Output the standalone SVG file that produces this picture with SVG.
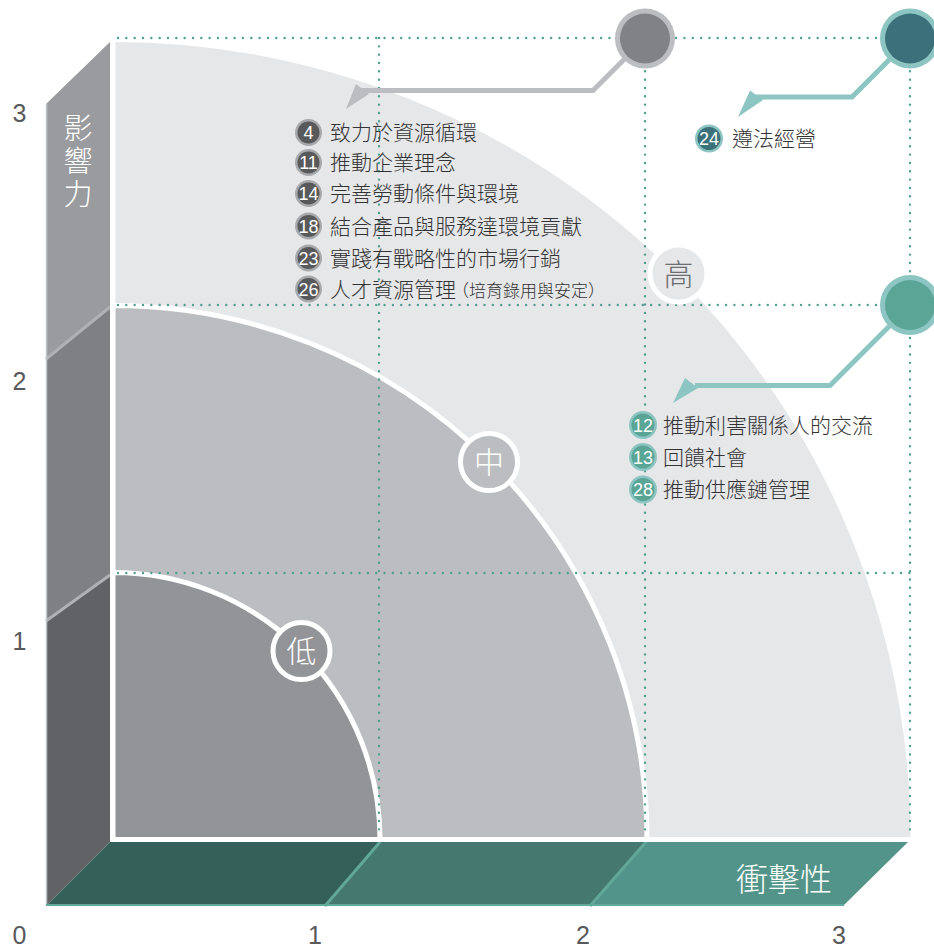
<svg xmlns="http://www.w3.org/2000/svg" width="934" height="950" viewBox="0 0 934 950">
<style>
.cjk{font-family:"Noto Sans CJK TC","Noto Sans CJK SC",sans-serif;font-weight:300;}
.item{font-size:21px;fill:#333335;}
.num{font-family:"Liberation Sans Narrow","Liberation Sans",sans-serif;font-size:18px;fill:#fff;text-anchor:middle;}
.axis{font-family:"Liberation Sans",sans-serif;font-size:25px;fill:#58595b;text-anchor:middle;}
.dot{stroke:#4e9f90;stroke-width:2.4;stroke-linecap:round;stroke-dasharray:0 8.33;fill:none;}
.big{font-size:30px;text-anchor:middle;}
.seamW{stroke:#b0b1b4;stroke-width:3;}
.seamF{stroke:#62a899;stroke-width:3;}
</style>
<rect width="934" height="950" fill="#fff"/>

<g id="wall">
<polygon points="46,104 110,42 110,307 46,359" fill="#9a9b9f"/>
<polygon points="46,359 110,307 110,575 46,621" fill="#7f8084"/>
<polygon points="46,621 110,575 110,842 46,906" fill="#616266"/>
<line class="seamW" x1="46" y1="359" x2="110" y2="307"/>
<line class="seamW" x1="46" y1="621" x2="110" y2="575"/>
<line x1="46.5" y1="104" x2="46.5" y2="906" stroke="#c4c5c7" stroke-width="1.5"/>
<text class="cjk" x="78" y="113" font-size="29" fill="#fff" writing-mode="vertical-rl" letter-spacing="4">影響力</text>
</g>

<g id="floor">
<polygon points="110,842 380,842 325,906 46,906" fill="#35605a"/>
<polygon points="380,842 646,842 590,906 325,906" fill="#457970"/>
<polygon points="646,842 908,842 843,906 590,906" fill="#53948a"/>
<line class="seamF" x1="380" y1="842" x2="325" y2="906"/>
<line class="seamF" x1="646" y1="842" x2="590" y2="906"/>
<line x1="46" y1="905" x2="844" y2="905" stroke="#5fa99a" stroke-width="2"/>
<text class="cjk" x="784" y="891" font-size="32" fill="#fff" text-anchor="middle">衝擊性</text>
</g>

<g id="regions">
<path d="M113,839.5 V39.5 A800,800 0 0 1 913,839.5 Z" fill="#e6e7e8" stroke="#fff" stroke-width="5"/>
<path d="M113,839.5 V305.5 A534,534 0 0 1 647,839.5 Z" fill="#bcbdc0" stroke="#fff" stroke-width="5"/>
<path d="M113,839.5 V572.5 A267,267 0 0 1 380,839.5 Z" fill="#939498" stroke="#fff" stroke-width="5"/>
</g>

<g id="grid">
<line class="dot" x1="118" y1="38" x2="910" y2="38"/>
<line class="dot" x1="118" y1="305" x2="910" y2="305"/>
<line class="dot" x1="118" y1="573" x2="910" y2="573"/>
<line class="dot" x1="379" y1="38" x2="379" y2="836"/>
<line class="dot" x1="645" y1="38" x2="645" y2="836"/>
<line class="dot" x1="910" y1="38" x2="910" y2="836"/>
</g>

<g id="level-low">
<circle cx="301.5" cy="651" r="28.5" fill="#939498" stroke="#fff" stroke-width="5"/>
<text class="cjk big" x="301.5" y="662" fill="#fff">低</text>
</g>
<g id="level-mid">
<circle cx="489" cy="462" r="28.5" fill="#bcbdc0" stroke="#fff" stroke-width="5"/>
<text class="cjk big" x="489" y="473" fill="#fff">中</text>
</g>
<g id="level-high">
<circle cx="678.5" cy="273.5" r="28.5" fill="#e6e7e8" stroke="#fff" stroke-width="5"/>
<text class="cjk big" x="678.5" y="284.5" fill="#6d6e71">高</text>
</g>

<g id="connectors" fill="none" stroke-width="5" stroke-linejoin="miter">
<polyline points="360,90.5 593,90.5 645,38.5" stroke="#bcbdc0"/>
<polygon points="356,84 369,94 346,109" fill="#bcbdc0" stroke="none"/>
<polyline points="752,97 852,97 910,39" stroke="#8dc5c2"/>
<polygon points="750,90.5 763,100 738,117" fill="#8dc5c2" stroke="none"/>
<polyline points="695,385.5 830,385.5 910,305.5" stroke="#8dc5c2"/>
<polygon points="685,378 698,388 673,403" fill="#8dc5c2" stroke="none"/>
</g>

<g id="hub-gray">
<circle cx="645" cy="38.5" r="30" fill="#bcbdc0"/>
<circle cx="645" cy="38.5" r="25" fill="#808285"/>
</g>
<g id="hub-darkteal">
<circle cx="910" cy="38.5" r="30" fill="#8dc5c2"/>
<circle cx="910" cy="38.5" r="25" fill="#3b717b"/>
</g>
<g id="hub-teal">
<circle cx="910" cy="305" r="30" fill="#8dc5c2"/>
<circle cx="910" cy="305" r="25" fill="#5ba597"/>
</g>

<g id="list-gray">
<g id="item-4"><circle cx="308.5" cy="132.5" r="13.5" fill="#a7a9ac"/><circle cx="308.5" cy="132.5" r="11" fill="#58595b"/><text class="num" x="308.5" y="139">4</text><text class="cjk item" x="330" y="140">致力於資源循環</text></g>
<g id="item-11"><circle cx="308.5" cy="162.5" r="13.5" fill="#a7a9ac"/><circle cx="308.5" cy="162.5" r="11" fill="#58595b"/><text class="num" x="308.5" y="169">11</text><text class="cjk item" x="330" y="170">推動企業理念</text></g>
<g id="item-14"><circle cx="308.5" cy="193.5" r="13.5" fill="#a7a9ac"/><circle cx="308.5" cy="193.5" r="11" fill="#58595b"/><text class="num" x="308.5" y="200">14</text><text class="cjk item" x="330" y="201">完善勞動條件與環境</text></g>
<g id="item-18"><circle cx="308.5" cy="226" r="13.5" fill="#a7a9ac"/><circle cx="308.5" cy="226" r="11" fill="#58595b"/><text class="num" x="308.5" y="232.5">18</text><text class="cjk item" x="330" y="233.5">結合產品與服務達環境貢獻</text></g>
<g id="item-23"><circle cx="308.5" cy="258" r="13.5" fill="#a7a9ac"/><circle cx="308.5" cy="258" r="11" fill="#58595b"/><text class="num" x="308.5" y="264.5">23</text><text class="cjk item" x="330" y="265.5">實踐有戰略性的市場行銷</text></g>
<g id="item-26"><circle cx="308.5" cy="289" r="13.5" fill="#a7a9ac"/><circle cx="308.5" cy="289" r="11" fill="#58595b"/><text class="num" x="308.5" y="295.5">26</text><text class="cjk item" x="330" y="296.5">人才資源管理<tspan font-size="17" dx="-4">（培育錄用與安定）</tspan></text></g>
</g>

<g id="list-darkteal">
<g id="item-24"><circle cx="709" cy="138.5" r="14" fill="#8dc5c2"/><circle cx="709" cy="138.5" r="11.5" fill="#3b717b"/><text class="num" x="709" y="145">24</text><text class="cjk item" x="732" y="146">遵法經營</text></g>
</g>

<g id="list-teal">
<g id="item-12"><circle cx="643" cy="425" r="14" fill="#8dc5c2"/><circle cx="643" cy="425" r="11.5" fill="#5ba597"/><text class="num" x="643" y="431.5">12</text><text class="cjk item" x="663" y="432.5">推動利害關係人的交流</text></g>
<g id="item-13"><circle cx="643" cy="457" r="14" fill="#8dc5c2"/><circle cx="643" cy="457" r="11.5" fill="#5ba597"/><text class="num" x="643" y="463.5">13</text><text class="cjk item" x="663" y="464.5">回饋社會</text></g>
<g id="item-28"><circle cx="643" cy="489.5" r="14" fill="#8dc5c2"/><circle cx="643" cy="489.5" r="11.5" fill="#5ba597"/><text class="num" x="643" y="496">28</text><text class="cjk item" x="663" y="497">推動供應鏈管理</text></g>
</g>

<g id="axes">
<text class="axis" x="19.5" y="122">3</text>
<text class="axis" x="19.5" y="390">2</text>
<text class="axis" x="19.5" y="650">1</text>
<text class="axis" x="19.5" y="944">0</text>
<text class="axis" x="315" y="944">1</text>
<text class="axis" x="583" y="944">2</text>
<text class="axis" x="839" y="944">3</text>
</g>
</svg>
